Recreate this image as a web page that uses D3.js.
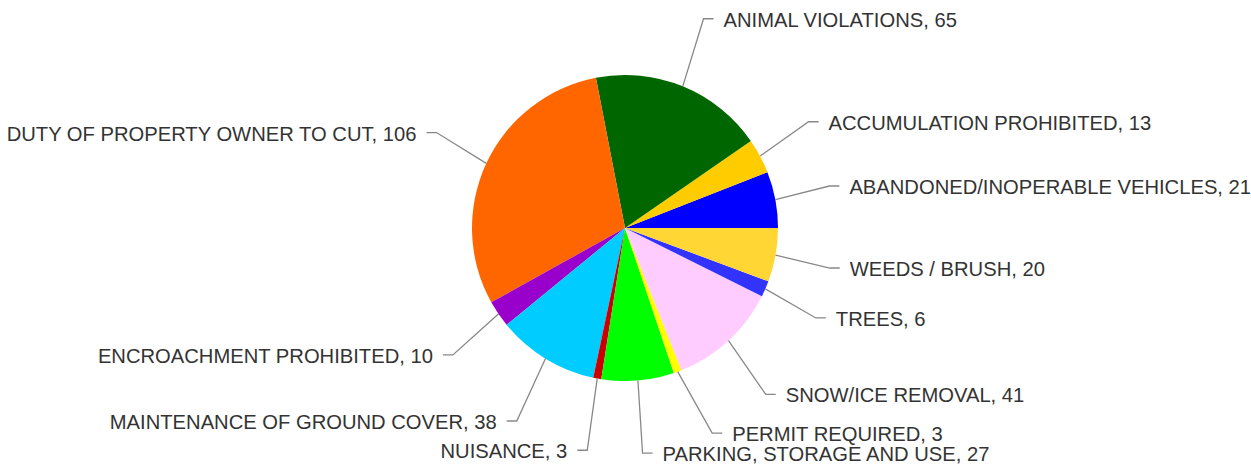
<!DOCTYPE html>
<html>
<head>
<meta charset="utf-8">
<script src="https://cdn.jsdelivr.net/npm/d3@7"></script>
<style>
  html, body { margin: 0; padding: 0; background: #ffffff; }
  svg { display: block; }
</style>
</head>
<body>
<svg id="chart" width="1251" height="471"></svg>
<script>
const categories = [
  "ABANDONED/INOPERABLE VEHICLES",
  "ACCUMULATION PROHIBITED",
  "ANIMAL VIOLATIONS",
  "DUTY OF PROPERTY OWNER TO CUT",
  "ENCROACHMENT PROHIBITED",
  "MAINTENANCE OF GROUND COVER",
  "NUISANCE",
  "PARKING, STORAGE AND USE",
  "PERMIT REQUIRED",
  "SNOW/ICE REMOVAL",
  "TREES",
  "WEEDS / BRUSH"
];
const values = [21, 13, 65, 106, 10, 38, 3, 27, 3, 41, 6, 20];
const colors = [
  "#0000ff", "#ffcc00", "#006600", "#ff6600", "#9900cc", "#00ccff",
  "#cc0000", "#00ff00", "#ffff00", "#ffccff", "#3333ff", "#ffd633"
];

const W = 1251, H = 471;
const cx = 625, cy = 228, R = 153;
const labelRx = R + 55, labelRy = R + 73;
const minGap = 20;
const fontSize = 20.2;

const svg = d3.select("#chart");
const data = categories.map((c, i) => ({ name: c, value: values[i], color: colors[i] }));

const pie = d3.pie()
  .sort(null)
  .value(d => d.value)
  .startAngle(Math.PI / 2)
  .endAngle(Math.PI / 2 - 2 * Math.PI);

const arcs = pie(data);
const arc = d3.arc().innerRadius(0).outerRadius(R);

const g = svg.append("g").attr("transform", `translate(${cx},${cy})`);

g.selectAll("path.slice")
  .data(arcs)
  .join("path")
  .attr("class", "slice")
  .attr("d", arc)
  .attr("fill", d => d.data.color);

// label layout: elbows on an ellipse around the pie, de-overlapped per side
const labels = arcs.map(a => {
  const m = (a.startAngle + a.endAngle) / 2;
  const sx = Math.sin(m), sy = -Math.cos(m);
  return {
    a,
    side: sx >= 0 ? 1 : -1,
    px: R * sx, py: R * sy,
    ex: labelRx * sx, ey: labelRy * sy
  };
});

[1, -1].forEach(side => {
  const group = labels.filter(l => l.side === side).sort((p, q) => q.ey - p.ey);
  for (let i = 1; i < group.length; i++) {
    if (group[i].ey > group[i - 1].ey - minGap) {
      group[i].ey = group[i - 1].ey - minGap;
    }
  }
  group.forEach(l => {
    const t = Math.max(0, 1 - (l.ey / labelRy) ** 2);
    l.ex = side * labelRx * Math.sqrt(t);
  });
});

const lg = g.append("g");
lg.selectAll("polyline")
  .data(labels)
  .join("polyline")
  .attr("points", l => [[l.px, l.py], [l.ex, l.ey], [l.ex + l.side * 10, l.ey]].map(p => p.join(",")).join(" "))
  .attr("fill", "none")
  .attr("stroke", "#888888")
  .attr("stroke-width", 1.3);

lg.selectAll("text")
  .data(labels)
  .join("text")
  .attr("x", l => l.ex + l.side * 20)
  .attr("y", l => l.ey + 8)
  .attr("text-anchor", l => l.side > 0 ? "start" : "end")
  .attr("font-family", "'Liberation Sans', Arial, sans-serif")
  .attr("font-size", fontSize)
  .attr("fill", "#333333")
  .text(l => `${l.a.data.name}, ${l.a.data.value}`);
</script>
</body>
</html>
